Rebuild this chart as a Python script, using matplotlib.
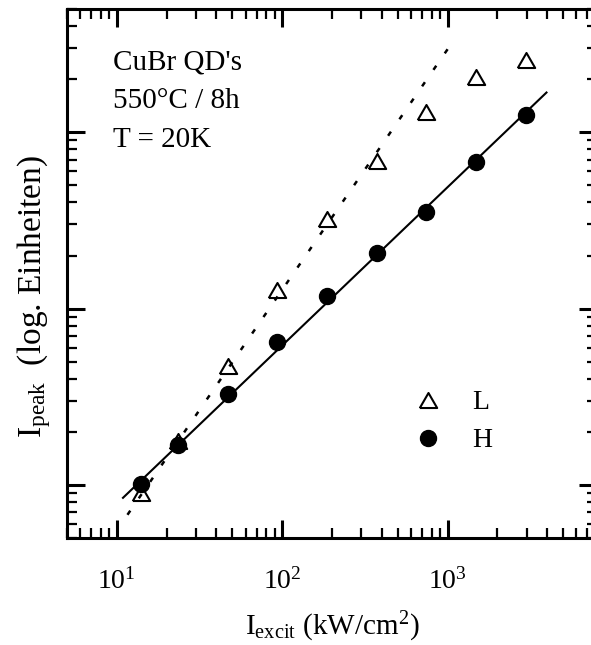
import matplotlib
matplotlib.use("Agg")
import matplotlib.pyplot as plt
from matplotlib.ticker import LogLocator, NullFormatter

plt.rcParams["font.family"] = ["Liberation Serif", "DejaVu Serif"]
plt.rcParams["mathtext.fontset"] = "custom"
plt.rcParams["mathtext.rm"] = "Liberation Serif"
plt.rcParams["mathtext.it"] = "Liberation Serif"
plt.rcParams["mathtext.default"] = "regular"

# excitation intensity (kW/cm^2)
excit = [14, 23.5, 47, 93, 186, 372, 745, 1490, 2980]
# peak intensities (arb. log units)
peak_L = [0.90, 1.77, 4.70, 12.8, 32.2, 68.6, 130, 205, 258]
peak_H = [1.01, 1.68, 3.27, 6.5, 11.8, 20.7, 35.3, 67.7, 126]

# fit lines (end points)
fit_L_x = [11.6, 1117]
fit_L_y = [0.677, 344]
fit_H_x = [10.9, 3960]
fit_H_y = [0.845, 168]

annot = ["CuBr QD's", "550°C / 8h", "T = 20K"]

# equilateral triangle marker
tri = [(-1, -0.866), (1, -0.866), (0, 0.866), (-1, -0.866)]

fig = plt.figure(figsize=(5.91, 6.45), dpi=100)
ax = fig.add_axes([67 / 591, 107 / 645, 530 / 591, 529 / 645])

ax.plot(excit, peak_L, linestyle="none", marker=tri, markersize=12.5,
        markerfacecolor="white", markeredgecolor="black", markeredgewidth=1.5,
        label="L", zorder=2)
ax.plot(fit_L_x, fit_L_y, color="black", lw=1.8, dashes=(2.0, 6.0), zorder=3)
ax.plot(fit_H_x, fit_H_y, color="black", lw=1.5, zorder=3)
ax.plot(excit, peak_H, linestyle="none", marker="o", markersize=11.5,
        color="black", label="H", zorder=4)

ax.set_xscale("log")
ax.set_yscale("log")
ax.set_xlim(5, 8000)
ax.set_ylim(0.5, 500)

ax.xaxis.set_major_locator(LogLocator(base=10, numticks=10))
ax.xaxis.set_minor_locator(LogLocator(base=10, subs=range(2, 10), numticks=20))
ax.yaxis.set_major_locator(LogLocator(base=10, numticks=10))
ax.yaxis.set_minor_locator(LogLocator(base=10, subs=range(2, 10), numticks=20))
ax.yaxis.set_major_formatter(NullFormatter())
ax.yaxis.set_minor_formatter(NullFormatter())
ax.xaxis.set_minor_formatter(NullFormatter())

ax.tick_params(which="both", direction="in", top=True, right=True)
ax.tick_params(which="major", length=13, width=2.2, labelsize=20, pad=22)
ax.tick_params(which="minor", length=7, width=1.6)
for sp in ax.spines.values():
    sp.set_linewidth(2.2)

ax.set_xlabel("I$_{excit}$ (kW/cm$^2$)", fontsize=21, labelpad=11)
ax.set_ylabel("I$_{peak}$  (log. Einheiten)", fontsize=24)
ax.yaxis.set_label_coords(-0.026, 0.456)

for i, s in enumerate(annot):
    ax.text(0.087, 0.885 - i * 0.073, s, transform=ax.transAxes,
            fontsize=21, va="baseline", ha="left")

ax.legend(loc="upper left", bbox_to_anchor=(0.629, 0.306), frameon=False,
          fontsize=20, handlelength=1.0, handletextpad=1.1, labelspacing=0.45,
          borderpad=0, numpoints=1)

fig.savefig("out.png", dpi=100)
